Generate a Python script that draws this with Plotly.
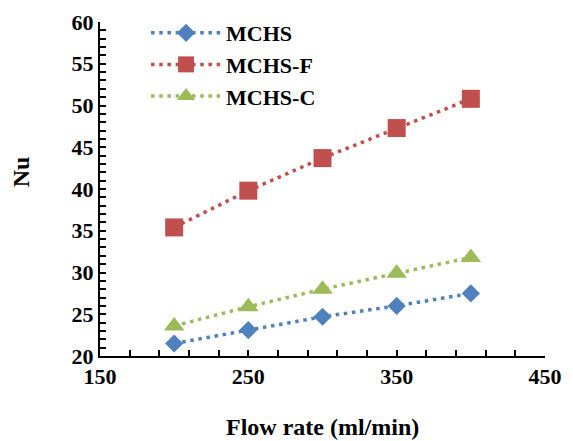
import plotly.graph_objects as go

flow_rate = [200, 250, 300, 350, 400]
nu_mchs = [21.5, 23.1, 24.7, 26.0, 27.5]
nu_mchs_f = [35.4, 39.8, 43.7, 47.3, 50.8]
nu_mchs_c = [23.6, 25.9, 28.0, 29.9, 31.8]

series_names = ["MCHS", "MCHS-F", "MCHS-C"]
series_values = [nu_mchs, nu_mchs_f, nu_mchs_c]
colors = ["#4F81BD", "#C0504D", "#9BBB59"]
symbols = ["diamond", "square", "triangle-up"]
sizes = [14, 18, 18]

FONT = "Times New Roman, Liberation Serif, serif"

fig = go.Figure()
for name, vals, c, s, sz in zip(series_names, series_values, colors, symbols, sizes):
    fig.add_trace(go.Scatter(
        x=flow_rate, y=vals, name=name, mode="lines+markers",
        legendgroup=name,
        line=dict(color=c, width=3.5, dash="3.5px,4.7px"),
        marker=dict(symbol=s, size=sz, color=c, line=dict(width=0)),
    ))

fig.update_layout(
    width=573, height=441,
    margin=dict(l=100, r=28, t=19, b=85),
    paper_bgcolor="white", plot_bgcolor="white",
    font=dict(family=FONT, size=22, color="black", weight="bold"),
    showlegend=True,
    legend=dict(
        x=0.1035, y=1.03, xanchor="left", yanchor="top",
        bgcolor="rgba(0,0,0,0)", tracegroupgap=0,
        itemwidth=70,
        font=dict(family=FONT, size=22, color="black", weight="bold"),
    ),
    xaxis=dict(
        range=[150, 450], tick0=150, dtick=100, automargin=False,
        showline=True, linecolor="black", linewidth=2,
        ticks="inside", ticklen=6, tickwidth=2, tickcolor="black",
        minor=dict(dtick=20, tick0=150, ticks="inside", ticklen=6, tickwidth=2, tickcolor="black"),
        showgrid=False, zeroline=False,
        tickfont=dict(family=FONT, size=22, color="black", weight="bold"),
    ),
    yaxis=dict(
        range=[20, 60], tick0=20, dtick=5, automargin=False,
        showline=True, linecolor="black", linewidth=2,
        ticks="inside", ticklen=6, tickwidth=2, tickcolor="black",
        minor=dict(dtick=1, ticks="inside", ticklen=6, tickwidth=2, tickcolor="black"),
        showgrid=False, zeroline=False,
        tickfont=dict(family=FONT, size=22, color="black", weight="bold"),
    ),
    annotations=[
        dict(text="Flow rate (ml/min)", xref="paper", yref="paper",
             x=0.5, y=0.0, yshift=-86, showarrow=False,
             font=dict(family=FONT, size=24, color="black", weight="bold")),
        dict(text="Nu", xref="paper", yref="paper", textangle=-90,
             x=0, xshift=-94, y=0.55, showarrow=False,
             font=dict(family=FONT, size=24, color="black", weight="bold")),
    ],
)

fig.write_html("out.html")
